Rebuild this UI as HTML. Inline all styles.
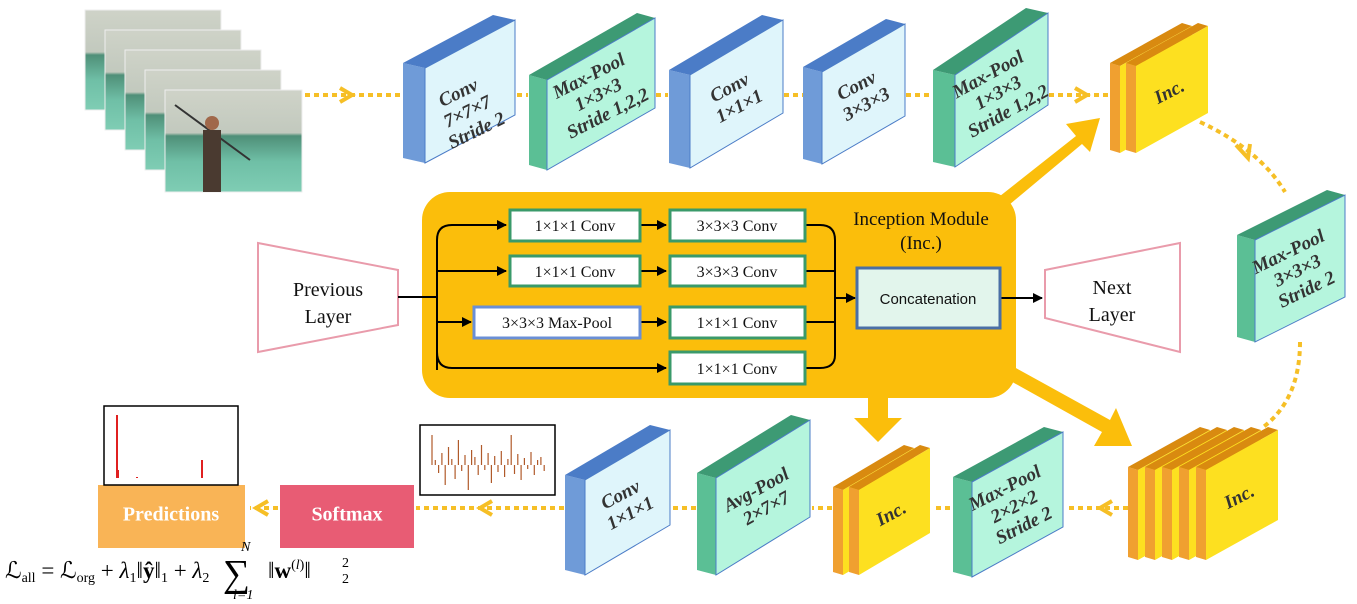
<!DOCTYPE html>
<html><head><meta charset="utf-8"><style>
html,body{margin:0;padding:0;background:#fff;}
svg{display:block;}
.bt{font-family:"Liberation Serif",serif;font-style:italic;font-weight:bold;font-size:19px;fill:#333;text-anchor:middle;}
.bx{font-family:"Liberation Serif",serif;font-size:16px;fill:#111;text-anchor:middle;}
.lay{font-family:"Liberation Serif",serif;font-size:20px;fill:#111;text-anchor:middle;}
.dot{stroke:#f6bf26;stroke-width:4;stroke-dasharray:5 4;fill:none;}
.chev{stroke:#f6bf26;stroke-width:4;fill:none;stroke-linejoin:miter;}
.ln{stroke:#000;stroke-width:2;fill:none;}
.f{font-family:"Liberation Serif",serif;font-size:23px;fill:#000;}
</style></head><body>
<svg id="s" width="1357" height="604" viewBox="0 0 1357 604" xmlns="http://www.w3.org/2000/svg">
<defs>
<marker id="ah" markerWidth="10" markerHeight="10" refX="9" refY="5" orient="auto" markerUnits="userSpaceOnUse"><path d="M0,0 L10,5 L0,10 z" fill="#000"/></marker>
<linearGradient id="fr" x1="0" y1="0" x2="0" y2="1"><stop offset="0" stop-color="#cfd3c8"/><stop offset="0.42" stop-color="#c2c9be"/><stop offset="0.45" stop-color="#4f8f78"/><stop offset="0.7" stop-color="#6fbfa6"/><stop offset="1" stop-color="#7fcdb4"/></linearGradient>
</defs>
<g>
<rect x="85" y="10" width="136" height="100" fill="url(#fr)" stroke="#eee"/>
<rect x="105" y="30" width="136" height="100" fill="url(#fr)" stroke="#eee"/>
<rect x="125" y="50" width="136" height="100" fill="url(#fr)" stroke="#eee"/>
<rect x="145" y="70" width="136" height="100" fill="url(#fr)" stroke="#eee"/>
<rect x="165" y="90" width="137" height="102" fill="url(#fr)" stroke="#eee"/>
<line x1="175" y1="105" x2="250" y2="160" stroke="#333" stroke-width="2"/>
<rect x="203" y="130" width="18" height="62" fill="#4a3a30"/>
<circle cx="212" cy="123" r="7" fill="#a0684a"/>
</g>
<path class="dot" d="M305,95 H400 M517,95 H528 M656,95 H668 M784,95 H803 M906,95 H932 M1049,95 H1108"/>
<path class="chev" d="M340,88 L352,95 L340,102 M1075,88 L1087,95 L1075,102"/>
<path class="dot" d="M1200,122 Q1260,150 1285,192"/>
<path class="chev" d="M1236,145 L1248,158 L1250,144"/>
<path class="dot" d="M1300,342 Q1300,400 1262,428"/>
<path class="dot" d="M1128,508 H1066 M950,508 H932 M832,508 H812 M696,508 H672 M564,508 H416 M278,508 H250"/>
<path class="chev" d="M1112,501 L1100,508 L1112,515 M492,501 L480,508 L492,515 M268,501 L256,508 L268,515"/>
<rect x="422" y="192" width="594" height="206" rx="28" fill="#fbbe0b"/>
<g fill="#fbbe0b">
<polygon points="995,200 1076,136 1066,124 1100,118 1090,152 1082,144 1003,210"/>
<polygon points="868,396 888,396 888,418 902,418 878,442 854,418 868,418"/>
<polygon points="1005,362 1110,420 1116,408 1132,446 1094,446 1102,432 998,374"/>
</g>
<polygon points="258,243 398,270 398,325 258,352" fill="#fff" stroke="#e99bab" stroke-width="2"/>
<text class="lay" x="328" y="296">Previous</text><text class="lay" x="328" y="323">Layer</text>
<polygon points="1045,270 1180,243 1180,352 1045,318" fill="#fff" stroke="#e99bab" stroke-width="2"/>
<text class="lay" x="1112" y="294">Next</text><text class="lay" x="1112" y="321">Layer</text>
<path class="ln" d="M398,297 H437"/>
<path class="ln" d="M437,370 V240 Q437,225 452,225 H506" marker-end="url(#ah)"/>
<path class="ln" d="M437,271 H506" marker-end="url(#ah)"/>
<path class="ln" d="M437,322 H471" marker-end="url(#ah)"/>
<path class="ln" d="M437,352 Q437,368 452,368 H666" marker-end="url(#ah)"/>
<path class="ln" d="M640,225 H666" marker-end="url(#ah)"/>
<path class="ln" d="M640,271 H666" marker-end="url(#ah)"/>
<path class="ln" d="M640,322 H666" marker-end="url(#ah)"/>
<path class="ln" d="M805,225 H820 Q835,225 835,240 V355 Q835,368 820,368 H805 M805,271 H835 M805,322 H835"/>
<path class="ln" d="M835,298 H855" marker-end="url(#ah)"/>
<path class="ln" d="M1000,298 H1042" marker-end="url(#ah)"/>
<g fill="#fff" stroke-width="3">
<rect x="510" y="210" width="130" height="31" stroke="#3a9a6a"/>
<rect x="670" y="210" width="135" height="31" stroke="#3a9a6a"/>
<rect x="510" y="256" width="130" height="30" stroke="#3a9a6a"/>
<rect x="670" y="256" width="135" height="30" stroke="#3a9a6a"/>
<rect x="474" y="307" width="166" height="31" stroke="#6a8fd6"/>
<rect x="670" y="307" width="135" height="31" stroke="#3a9a6a"/>
<rect x="670" y="352" width="135" height="32" stroke="#3a9a6a"/>
</g>
<text class="bx" x="575" y="231">1×1×1 Conv</text>
<text class="bx" x="737" y="231">3×3×3 Conv</text>
<text class="bx" x="575" y="277">1×1×1 Conv</text>
<text class="bx" x="737" y="277">3×3×3 Conv</text>
<text class="bx" x="557" y="328">3×3×3 Max-Pool</text>
<text class="bx" x="737" y="328">1×1×1 Conv</text>
<text class="bx" x="737" y="374">1×1×1 Conv</text>
<rect x="857" y="268" width="143" height="60" fill="#e2f5ec" stroke="#4a6fa5" stroke-width="3"/>
<text x="928" y="304" style="font-family:'Liberation Sans',sans-serif;font-size:15px;text-anchor:middle;fill:#111">Concatenation</text>
<text class="lay" x="921" y="225" style="font-size:19px">Inception Module</text>
<text class="lay" x="921" y="249" style="font-size:19px">(Inc.)</text>
<g id="blocks"></g>
<g class="bt">
<text transform="translate(470,117) rotate(-26)"><tspan x="0" y="-21">Conv</tspan><tspan x="0" y="0">7×7×7</tspan><tspan x="0" y="21">Stride 2</tspan></text>
<text transform="translate(601,100) rotate(-27)"><tspan x="0" y="-21">Max-Pool</tspan><tspan x="0" y="0">1×3×3</tspan><tspan x="0" y="21">Stride 1,2,2</tspan></text>
<text transform="translate(736,100) rotate(-28)"><tspan x="0" y="-8">Conv</tspan><tspan x="0" y="13">1×1×1</tspan></text>
<text transform="translate(863,98) rotate(-28)"><tspan x="0" y="-8">Conv</tspan><tspan x="0" y="13">3×3×3</tspan></text>
<text transform="translate(1001,98) rotate(-29)"><tspan x="0" y="-21">Max-Pool</tspan><tspan x="0" y="0">1×3×3</tspan><tspan x="0" y="21">Stride 1,2,2</tspan></text>
<text transform="translate(1172,97) rotate(-27)"><tspan x="0" y="0">Inc.</tspan></text>
<text transform="translate(1300,276) rotate(-26)"><tspan x="0" y="-21">Max-Pool</tspan><tspan x="0" y="0">3×3×3</tspan><tspan x="0" y="21">Stride 2</tspan></text>
<text transform="translate(1242,502) rotate(-27)"><tspan x="0" y="0">Inc.</tspan></text>
<text transform="translate(1017,512) rotate(-27)"><tspan x="0" y="-21">Max-Pool</tspan><tspan x="0" y="0">2×2×2</tspan><tspan x="0" y="21">Stride 2</tspan></text>
<text transform="translate(894,519) rotate(-28)"><tspan x="0" y="0">Inc.</tspan></text>
<text transform="translate(763,502) rotate(-29)"><tspan x="0" y="-8">Avg-Pool</tspan><tspan x="0" y="13">2×7×7</tspan></text>
<text transform="translate(627,507) rotate(-28)"><tspan x="0" y="-8">Conv</tspan><tspan x="0" y="13">1×1×1</tspan></text>
</g>
<rect x="98" y="485" width="147" height="63" fill="#f9b456"/>
<text x="171" y="516" style="font-family:'Liberation Serif',serif;font-weight:bold;font-size:20px;fill:#fff;text-anchor:middle;dominant-baseline:middle">Predictions</text>
<rect x="280" y="485" width="134" height="63" fill="#e85c74"/>
<text x="347" y="516" style="font-family:'Liberation Serif',serif;font-weight:bold;font-size:20px;fill:#fff;text-anchor:middle;dominant-baseline:middle">Softmax</text>
<rect x="104" y="406" width="134" height="79" fill="#fff" stroke="#000" stroke-width="1.5"/>
<path d="M117,415 V478 M118,470 V478 M137,477 V478 M202,460 V478" stroke="#e02020" stroke-width="2"/>
<rect x="420" y="425" width="135" height="70" fill="#fff" stroke="#000" stroke-width="1.5"/>
<g id="spk" stroke="#b05a2a" stroke-width="1.2"></g>
<text class="f" x="5" y="578">ℒ<tspan font-size="14" dy="4">all</tspan><tspan dy="-4"> = ℒ</tspan><tspan font-size="14" dy="4">org</tspan><tspan dy="-4"> + </tspan><tspan font-style="italic">λ</tspan><tspan font-size="14" dy="4">1</tspan><tspan dy="-4">‖</tspan><tspan font-weight="bold">ŷ</tspan><tspan>‖</tspan><tspan font-size="14" dy="4">1</tspan><tspan dy="-4"> + </tspan><tspan font-style="italic">λ</tspan><tspan font-size="14" dy="4">2</tspan></text>
<text class="f" x="223" y="586" style="font-size:38px">∑</text>
<text class="f" x="241" y="551" style="font-size:14px;font-style:italic">N</text>
<text class="f" x="233" y="599" style="font-size:14px;font-style:italic">l=1</text>
<text class="f" x="268" y="578">‖<tspan font-weight="bold">w</tspan><tspan font-size="14" dy="-9">(</tspan><tspan font-size="14" font-style="italic">l</tspan><tspan font-size="14">)</tspan><tspan dy="9">‖</tspan></text>
<text class="f" x="342" y="567" style="font-size:14px">2</text>
<text class="f" x="342" y="583" style="font-size:14px">2</text>
</svg>
<script>
var NS="http://www.w3.org/2000/svg",G=document.getElementById("blocks");
function poly(pts,fill,stroke){var p=document.createElementNS(NS,"polygon");p.setAttribute("points",pts.map(function(a){return a.join(",")}).join(" "));p.setAttribute("fill",fill);if(stroke){p.setAttribute("stroke",stroke);p.setAttribute("stroke-width","1");}G.appendChild(p);}
function blk(L,F,R,T,r,H,c,dy){dy=dy||5;var d=F-L;
poly([[L,T-dy],[F,T],[F,T+H],[L,T+H-dy]],c[0]);
poly([[L,T-dy],[R-d,T-r-dy],[R,T-r],[F,T]],c[1]);
poly([[F,T],[R,T-r],[R,T-r+H],[F,T+H]],c[2],c[3]);}
var B=["#6f9bd8","#4b7cc7","#dff5fb","#4b7cc7"],Gr=["#5bbf95","#3d9a74","#b5f5dd","#4b7cc7"],Y=["#f0a030","#d98a10","#fde020",null];
blk(403,425,515,68,48,95,B);
blk(529,547,655,80,62,90,Gr);
blk(669,690,783,75,55,93,B);
blk(803,822,905,72,48,92,B);
blk(933,955,1048,75,62,92,Gr);
function inc(L0,n,step,sw,R,T,r,H){var F=L0+step*(n-1)+sw;var w=R-F;for(var i=0;i<n;i++){var l=L0+step*i;blk(l,l+sw,l+sw+w,T,r,H,Y,3);}}
inc(1110,2,16,10,1208,66,40,87);
blk(1237,1255,1345,240,45,102,Gr);
inc(1128,5,17,10,1278,470,40,90);
blk(953,972,1063,482,50,95,Gr);
inc(833,2,16,10,930,490,42,85);
blk(697,716,810,478,58,97,Gr);
blk(565,585,670,480,50,95,B);
var s=document.getElementById("spk"),h=[30,5,-8,12,-20,18,6,-14,25,-6,10,-25,15,8,-10,20,-5,12,-18,9,-7,14,-12,6,30,-9,11,-15,7,-4,13,-10,5,8,-6];
for(var i=0;i<h.length;i++){var l=document.createElementNS(NS,"line");var x=432+i*3.3;l.setAttribute("x1",x);l.setAttribute("x2",x);l.setAttribute("y1",465);l.setAttribute("y2",465-h[i]);s.appendChild(l);}
</script>
</body></html>
